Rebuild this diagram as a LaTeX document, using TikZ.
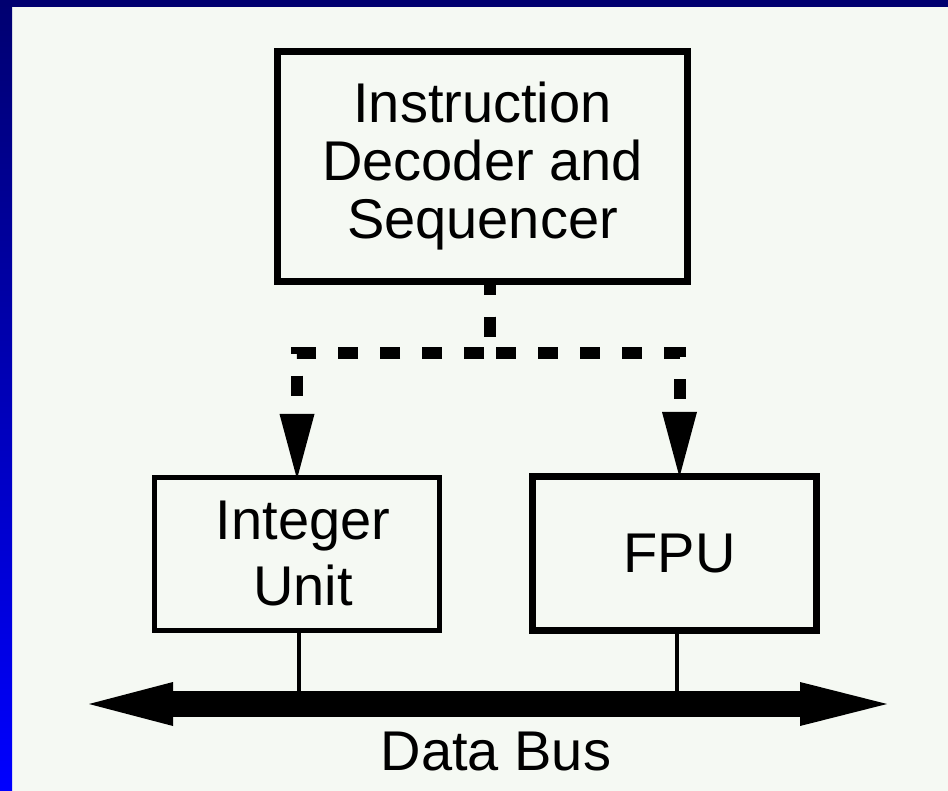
\documentclass[tikz,border=0pt]{standalone}
\usepackage{fontspec}
\setmainfont{Liberation Sans}
\usetikzlibrary{arrows.meta,calc}
\definecolor{paper}{RGB}{245,249,243}
\definecolor{navyband}{RGB}{0,0,112}
\definecolor{brightband}{RGB}{0,0,255}
\tikzset{
  unitbox/.style={draw=black, rectangle, inner sep=0pt, align=center, font=\fontsize{56}{58}\selectfont, text=black},
  ctrl/.style={line width=12pt, dash pattern=on 20pt off 22pt, dash phase=10pt,
    -{Triangle[length=65pt,width=35pt,line width=0pt]}},
  tap/.style={line width=4pt},
  bus/.style={line width=26pt, {Triangle[length=84pt,width=44pt,line width=0pt]}-{Triangle[length=87pt,width=44pt,line width=0pt]}},
  lbl/.style={inner sep=0pt, font=\fontsize{56}{58}\selectfont, text=black}
}
\begin{document}
\begin{tikzpicture}[x=1pt,y=-1pt]
  \useasboundingbox (0,0) rectangle (948,791);
  \fill[paper] (0,0) rectangle (948,791);
  \shade[top color=navyband, bottom color=brightband] (0,0) rectangle (12,791);
  \fill[navyband] (0,0) rectangle (948,7);

  \node[unitbox, line width=6.5pt, minimum width=410pt, minimum height=230pt]
    (dec) at (482.5,166.5) {Instruction\\Decoder and\\Sequencer};
  \node[unitbox, line width=5pt, minimum width=285pt, minimum height=153pt,
    font=\fontsize{56}{66}\selectfont]
    (int) at (297,554) {\hspace*{12pt}Integer\\\hspace*{12pt}Unit};
  \node[unitbox, line width=7pt, minimum width=284pt, minimum height=154pt]
    (fpu) at (674.5,553.5) {\hspace*{10pt}FPU};

  \coordinate (split) at ([xshift=7.5pt]dec.south);
  \coordinate (junc) at ($(split)+(0,68)$);
  \draw[ctrl] (split) -- (junc) -| ([yshift=-4pt]int.north);
  \draw[ctrl] (split) -- (junc) -| ([yshift=-4pt,xshift=5pt]fpu.north);

  \coordinate (busL) at (89,704);
  \coordinate (busR) at (887,704);
  \draw[tap] ([xshift=2pt]int.south) -- ([xshift=2pt]int.south |- busL);
  \draw[tap] ([xshift=2.5pt]fpu.south) -- ([xshift=2.5pt]fpu.south |- busL);
  \draw[bus] (busL) -- (busR);
  \node[lbl, anchor=base] (buslabel) at (496,770) {Data Bus};
\end{tikzpicture}
\end{document}
